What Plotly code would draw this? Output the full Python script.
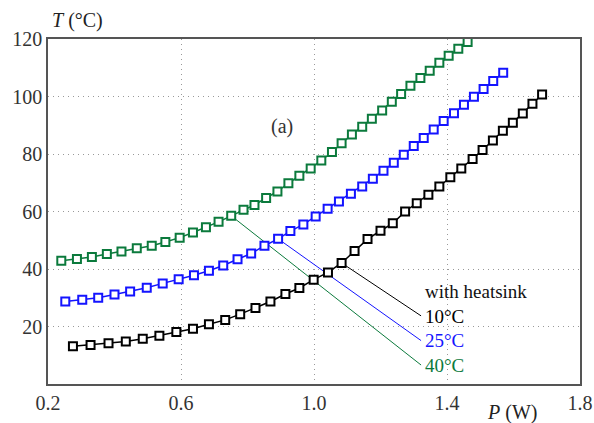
import plotly.graph_objects as go

# Power P (W) and temperature T (°C) for each heatsink temperature
p_10 = [0.275, 0.328, 0.382, 0.434, 0.485, 0.535, 0.586, 0.636, 0.684, 0.733,
        0.778, 0.824, 0.869, 0.914, 0.956, 0.999, 1.042, 1.083, 1.122, 1.161,
        1.200, 1.237, 1.274, 1.309, 1.344, 1.377, 1.410, 1.443, 1.477, 1.507,
        1.538, 1.568, 1.598, 1.628, 1.657, 1.686]
t_10 = [13.1, 13.6, 14.2, 14.8, 15.7, 16.8, 18.1, 19.2, 20.8, 22.3,
        24.3, 26.4, 28.7, 31.3, 33.4, 36.3, 38.8, 42.1, 46.3, 50.4,
        53.3, 55.9, 60.0, 62.9, 65.8, 68.7, 71.9, 75.0, 78.3, 81.4,
        84.7, 88.1, 90.9, 94.1, 97.5, 100.7]

p_25 = [0.252, 0.303, 0.351, 0.400, 0.447, 0.497, 0.545, 0.593, 0.639, 0.684,
        0.727, 0.770, 0.811, 0.851, 0.892, 0.929, 0.968, 1.005, 1.041, 1.075,
        1.111, 1.145, 1.177, 1.209, 1.240, 1.270, 1.300, 1.330, 1.360, 1.390,
        1.421, 1.451, 1.481, 1.510, 1.539, 1.569]
t_25 = [28.7, 29.3, 30.0, 31.1, 32.2, 33.5, 35.0, 36.4, 37.8, 39.4,
        41.2, 43.4, 45.4, 48.1, 50.5, 53.2, 55.5, 58.3, 61.0, 63.5,
        66.2, 68.7, 71.4, 74.2, 77.0, 79.7, 82.8, 85.6, 88.5, 91.5,
        94.2, 97.1, 99.9, 102.6, 105.4, 108.3]

p_40 = [0.240, 0.287, 0.332, 0.377, 0.421, 0.467, 0.512, 0.553, 0.596, 0.636,
        0.675, 0.713, 0.751, 0.788, 0.821, 0.856, 0.890, 0.923, 0.956, 0.990,
        1.022, 1.054, 1.083, 1.114, 1.145, 1.174, 1.205, 1.234, 1.262, 1.290,
        1.320, 1.348, 1.377, 1.405, 1.434, 1.462]
t_40 = [42.9, 43.5, 44.2, 45.2, 46.1, 47.2, 48.1, 49.4, 50.9, 52.7,
        54.5, 56.4, 58.5, 60.6, 62.3, 64.7, 67.0, 69.8, 72.4, 75.0,
        77.7, 80.7, 83.7, 86.8, 89.5, 92.3, 95.1, 98.2, 100.9, 103.7,
        106.4, 109.0, 111.7, 114.2, 116.6, 119.0]

# name, P values, T values, colour, index of the point the leader starts at
series = [
    ("10°C", p_10, t_10, "#000000", 17),
    ("25°C", p_25, t_25, "#1414ff", 14),
    ("40°C", p_40, t_40, "#0b7a3c", 12),
]

# leader-line end points next to the label block (data coordinates)
label_x = 1.322
label_y = {"10°C": 23.7, "25°C": 15.1, "40°C": 6.6}
label_block_y = 19.3
header_text = "with heatsink"
panel_tag = "(a)"

x_ticks = [0.2, 0.6, 1.0, 1.4, 1.8]
y_ticks = [20, 40, 60, 80, 100, 120]

FONT = "Liberation Serif, Times New Roman, serif"

fig = go.Figure()

# leader lines from a point on each curve to its label
for name, px, ty, color, idx in series:
    fig.add_trace(go.Scatter(
        x=[px[idx], label_x], y=[ty[idx], label_y[name]],
        mode="lines", line=dict(color=color, width=1),
        hoverinfo="skip", showlegend=False))

for name, px, ty, color, idx in series:
    fig.add_trace(go.Scatter(
        x=px, y=ty, mode="lines+markers", name=name,
        line=dict(color=color, width=1.5),
        marker=dict(symbol="square", size=8, color="white",
                    line=dict(color=color, width=2)),
        showlegend=False))

# one left-aligned block: header, then each temperature in its curve colour
label_lines = [header_text] + [
    f"<span style='color:{color}'>{name}</span>"
    for name, px, ty, color, idx in series
]

annotations = [
    dict(x=label_x + 0.007, y=label_block_y, text="<br>".join(label_lines),
         showarrow=False, align="left", xanchor="left", yanchor="middle",
         font=dict(size=19, color="#111")),
    dict(x=0.905, y=89.5, text=panel_tag, showarrow=False,
         xanchor="center", yanchor="middle", font=dict(size=20, color="#333")),
    dict(x=0.003, y=1.054, xref="paper", yref="paper", text="<i>T</i> (°C)",
         showarrow=False, xanchor="left", yanchor="middle",
         font=dict(size=20, color="#222")),
    dict(x=0.821, y=-0.084, xref="paper", yref="paper", text="<i>P</i> (W)",
         showarrow=False, xanchor="left", yanchor="middle",
         font=dict(size=20, color="#222")),
]

axis_common = dict(
    showline=True, mirror=True, linecolor="#555", linewidth=1.5,
    showgrid=True, gridcolor="#999", gridwidth=1, griddash="1px,4px",
    zeroline=False, ticks="", automargin=False,
    tickfont=dict(size=20, color="#333"),
)

fig.update_layout(
    template="none",
    width=594, height=423,
    margin=dict(l=48, r=14, t=39, b=39, pad=0),
    paper_bgcolor="white", plot_bgcolor="white",
    font=dict(family=FONT, size=20, color="#222"),
    xaxis=dict(range=[0.2, 1.8], tickvals=x_ticks,
               ticktext=[f"{v:.1f}" for v in x_ticks], **axis_common),
    yaxis=dict(range=[0, 120], tickvals=y_ticks,
               ticktext=[str(v) for v in y_ticks], **axis_common),
    annotations=annotations,
)

fig.write_html("out.html")
